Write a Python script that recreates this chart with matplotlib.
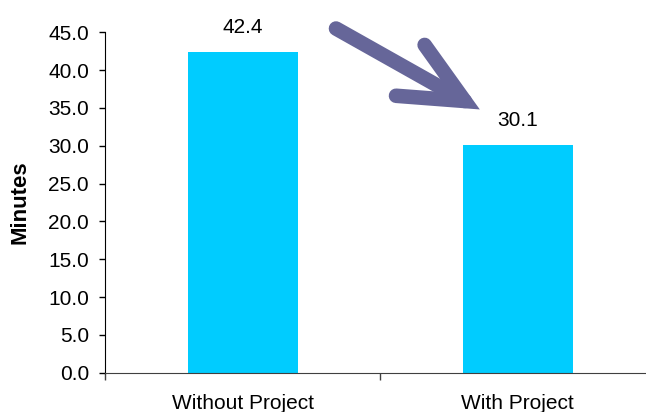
import matplotlib
matplotlib.use("Agg")
import matplotlib.pyplot as plt

# --------------------------------------------------
# Data
# --------------------------------------------------

categories = ["Without Project", "With Project"]
minutes = [42.4, 30.1]

# --------------------------------------------------
# Figure
# --------------------------------------------------

plt.rcParams["font.family"] = ["Liberation Sans", "DejaVu Sans"]
plt.rcParams["font.size"] = 15

fig = plt.figure(figsize=(6.46, 4.12), dpi=100)
ax = fig.add_axes([105 / 646, 0.0954, 1 - 105 / 646, 0.8262])

xpos = [i + 0.5 for i in range(len(categories))]

bars = ax.bar(xpos, minutes, width=0.40, color="#00CCFF", zorder=2)

ax.bar_label(bars, labels=[f"{v:.1f}" for v in minutes],
             padding=11, fontsize=15)

# --------------------------------------------------
# Axes
# --------------------------------------------------

ax.set_xlim(0, 541 / 275)
ax.set_ylim(0, 45)
ax.set_yticks(range(0, 46, 5))
ax.set_yticklabels([f"{t:.1f}" for t in range(0, 46, 5)])

# category labels centred, tick marks between categories
ax.set_xticks(xpos)
ax.set_xticklabels(categories)
ax.set_xticks(range(0, len(categories)), minor=True)
ax.tick_params(axis="x", which="major", length=0, pad=15)
ax.tick_params(axis="x", which="minor", length=5, width=1, color="#404040",
               direction="out")
ax.tick_params(axis="y", length=4.5, width=1, pad=7, direction="out")

ax.spines["top"].set_visible(False)
ax.spines["right"].set_visible(False)
ax.spines["left"].set_color("black")
ax.spines["bottom"].set_color("#404040")

ax.set_ylabel("Minutes", fontweight="bold", fontsize=16, labelpad=13)

# --------------------------------------------------
# Arrow showing the drop
# --------------------------------------------------

ax.annotate(
    "",
    xy=(1.363, 34.8),
    xytext=(0.84, 45.5),
    xycoords="data",
    textcoords="data",
    annotation_clip=False,
    arrowprops=dict(
        arrowstyle="->,head_length=45,head_width=21",
        mutation_scale=1,
        color="#666699",
        linewidth=10.5,
        capstyle="round",
        joinstyle="miter",
        shrinkA=0,
        shrinkB=0,
    ),
)

fig.savefig("out.png", dpi=100)
